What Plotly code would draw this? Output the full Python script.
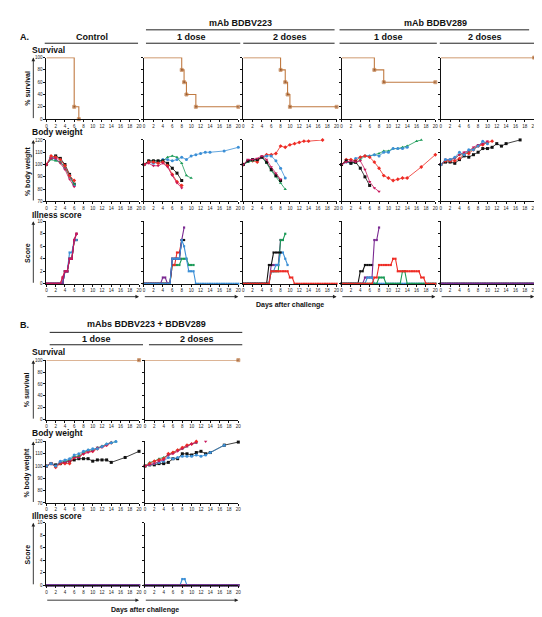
import plotly.graph_objects as go

W, H = 542, 617
FONT = "Liberation Sans, Arial, Helvetica, sans-serif"

# ---------------- data ----------------
day_ticks = [0, 2, 4, 6, 8, 10, 12, 14, 16, 18, 20]
surv_ticks = [0, 20, 40, 60, 80, 100]
bw_ticks = [70, 80, 90, 100, 110, 120]
score_ticks = [0, 2, 4, 6, 8, 10]

# survival (step curves)
surv_ctrl = ([0, 6, 7], [100, 20, 0])
surv_223_1 = ([0, 8, 8.5, 9, 11, 20], [100, 80, 60, 40, 20, 20])
surv_223_2 = ([0, 8, 9, 9.5, 10, 20], [100, 80, 60, 40, 20, 20])
surv_289_1 = ([0, 7, 9, 20], [100, 80, 60, 60])
surv_289_2 = ([0, 20], [100, 100])
surv_combo_1 = ([0, 20], [100, 100])
surv_combo_2 = ([0, 20], [100, 100])

# body weight (% of day 0): color -> (days, values)
d0_6 = [0, 1, 2, 3, 4, 5, 6]
bw_ctrl = {
    "black": (d0_6, [100, 105, 107, 105, 100, 92, 84]),
    "blue": (d0_6, [100, 106, 104, 102, 97, 91, 83]),
    "green": (d0_6, [100, 104, 103, 102, 98, 90, 84]),
    "red": (d0_6, [100, 107, 106, 104, 99, 91, 87]),
    "crimson": (d0_6, [100, 105, 105, 101, 96, 88, 82]),
}
bw_223_1 = {
    "blue": ([0, 1, 2, 3, 4, 5, 6, 7, 8, 9, 10, 11, 12, 13, 14, 17, 20],
             [100, 102, 101, 102, 104, 104, 103, 104, 106, 104, 107, 108, 109, 110, 110, 111, 114]),
    "green": ([0, 1, 2, 3, 4, 5, 6, 7, 8, 9, 10],
              [100, 103, 103, 103, 103, 106, 107, 106, 101, 91, 89]),
    "black": ([0, 1, 2, 3, 4, 5, 6, 7, 8], [100, 103, 103, 103, 103, 101, 97, 93, 87]),
    "red": ([0, 1, 2, 3, 4, 5, 6, 7, 8], [100, 102, 102, 101, 102, 99, 92, 86, 83]),
    "crimson": ([0, 1, 2, 3, 4, 5, 6, 7, 8], [100, 101, 99, 99, 101, 98, 91, 85, 81]),
}
bw_223_2 = {
    "red": ([0, 1, 2, 3, 4, 5, 6, 7, 8, 9, 10, 11, 12, 13, 14, 17],
            [100, 103, 103, 102, 106, 108, 108, 109, 115, 114, 116, 117, 118, 119, 119, 120]),
    "blue": ([0, 1, 2, 3, 4, 5, 6, 7, 8, 9], [100, 103, 104, 104, 106, 107, 107, 103, 97, 89]),
    "green": ([0, 1, 2, 3, 4, 5, 6, 7, 8, 9], [100, 102, 103, 104, 106, 101, 95, 90, 85, 80]),
    "black": ([0, 1, 2, 3, 4, 5, 6, 7, 8], [100, 103, 104, 104, 106, 102, 96, 91, 87]),
    "crimson": ([0, 1, 2, 3, 4, 5, 6, 7, 8], [100, 104, 104, 105, 107, 104, 98, 93, 88]),
}
bw_289_1 = {
    "green": ([0, 1, 2, 3, 4, 5, 6, 7, 8, 9, 10, 11, 12, 13, 14, 16, 17],
              [100, 102, 102, 101, 104, 107, 107, 108, 109, 111, 111, 113, 113, 114, 115, 119, 120]),
    "blue": ([0, 1, 2, 3, 4, 5, 6, 7, 8, 9, 10, 11, 12, 13, 14],
             [100, 102, 101, 105, 106, 107, 107, 108, 107, 110, 110, 113, 113, 113, 114]),
    "red": ([0, 1, 2, 3, 4, 5, 6, 7, 8, 9, 10, 11, 12, 13, 14, 17, 20],
            [100, 104, 104, 103, 106, 107, 106, 102, 97, 91, 89, 87, 88, 89, 89, 98, 108]),
    "black": ([0, 1, 2, 3, 4, 5, 6], [100, 103, 101, 102, 97, 90, 83]),
    "crimson": ([0, 1, 2, 3, 4, 5, 6, 7, 8], [100, 102, 103, 102, 103, 96, 86, 81, 78]),
}
bw_289_2 = {
    "black": ([0, 1, 2, 3, 4, 5, 6, 7, 8, 9, 10, 11, 12, 13, 14, 17],
              [100, 102, 102, 101, 104, 107, 106, 108, 110, 113, 113, 114, 117, 115, 117, 120]),
    "green": ([0, 1, 2, 3, 4, 5, 6, 7, 8, 9, 10], [100, 103, 104, 105, 108, 109, 110, 113, 115, 117, 118]),
    "red": ([0, 1, 2, 3, 4, 5, 6, 7, 8, 9, 10, 11], [100, 103, 103, 103, 105, 109, 109, 112, 115, 116, 118, 119]),
    "crimson": ([0, 1, 2, 3, 4, 5, 6, 7, 8, 9, 10], [100, 104, 104, 105, 108, 110, 111, 114, 116, 117, 119]),
    "blue": ([0, 1, 2, 3, 4, 5, 6, 7, 8, 9, 10], [100, 104, 104, 106, 110, 108, 112, 112, 115, 119, 117]),
}
bw_combo_1 = {
    "black": ([0, 1, 2, 3, 4, 5, 6, 7, 8, 9, 10, 11, 12, 13, 14, 17, 20],
              [100, 102, 101, 102, 103, 104, 105, 106, 106, 106, 104, 105, 105, 105, 103, 107, 112]),
    "red": ([0, 1, 2, 3, 4, 5, 6, 7, 8, 9, 10, 11, 12, 13, 14],
            [100, 102, 99, 102, 102, 102, 107, 108, 110, 112, 112, 114, 116, 117, 119]),
    "green": ([0, 1, 2, 3, 4, 5, 6, 7, 8, 9, 10, 11, 12, 13, 14, 15],
              [100, 102, 100, 103, 104, 105, 108, 108, 111, 113, 113, 115, 116, 118, 119, 120]),
    "crimson": ([0, 1, 2, 3, 4, 5, 6, 7, 8, 9, 10, 11, 12, 13, 14],
                [100, 102, 100, 103, 103, 104, 107, 107, 110, 111, 112, 115, 115, 117, 119]),
    "blue": ([0, 1, 2, 3, 4, 5, 6, 7, 8, 9, 10, 11, 12, 13, 14, 15],
             [100, 102, 100, 104, 105, 106, 109, 110, 112, 113, 114, 114, 116, 118, 119, 120]),
}
bw_combo_2 = {
    "black": ([0, 1, 2, 3, 4, 5, 6, 7, 8, 9, 10, 11, 12, 13, 14, 17, 20],
              [100, 101, 101, 102, 102, 103, 106, 106, 110, 110, 109, 111, 112, 110, 111, 117, 119.5]),
    "blue": ([0, 1, 2, 3, 4, 5, 6, 7, 8, 9, 10, 11, 12, 13, 14, 17],
             [100, 101, 102, 103, 104, 107, 106, 107, 108, 108, 108, 109, 108, 109, 111, 117]),
    "green": ([0, 1, 2, 3, 4, 5, 6, 7, 8, 9, 10, 11], [100, 103, 104, 106, 107, 109, 111, 113, 114, 116, 118, 119]),
    "red": ([0, 1, 2, 3, 4, 5, 6, 7, 8, 9, 10, 11], [100, 102, 104, 105, 106, 110, 111, 113, 115, 117, 118, 120]),
    "crimson": ([0, 1, 2, 3, 4, 5, 6, 7, 8, 9, 10, 11, 12, 13],
                [100, 101, 102, 104, 105, 109, 110, 112, 114, 116, 118, 119, None, 120]),
}

# illness score, one value per half day starting at day 0
ill_ctrl = {
    "black": [0, 0, 0, 0, 0, 0, 0, 0, 2, 2, 4, 4, 7, 7],
    "green": [0, 0, 0, 0, 0, 0, 0, 0, 2, 2, 4, 4, 7],
    "red": [0, 0, 0, 0, 0, 0, 0, 1, 2, 2, 4, 4, 7, 8],
    "blue": [0, 0, 0, 0, 0, 0, 0, 0, 2, 2, 5, 5, 7, 7],
    "purple": [0, 0, 0, 0, 0, 0, 0, 0, 2, 2, 4, 4, 7, 8],
    "crimson": [0, 0, 0, 0, 0, 0, 0, 1, 2, 2, 4, 4, 7, 8],
}
ill_223_1 = {
    "green": [0] * 12 + [3, 3, 3, 3, 4, 4, 4, 3, 3, 3],
    "red": [0] * 12 + [3, 3, 5, 5, 7],
    "black": [0] * 12 + [4, 4, 4, 4, 7, 7],
    "purple": [0] * 8 + [1, 1, 0, 0, 4, 4, 4, 4, 7, 9],
    "blue": [0] * 12 + [4, 4, 4, 4, 7, 6, 4, 2, 2, 2] + [0] * 19,
}
ill_223_2 = {
    "purple": [0] * 12 + [3, 3, 3, 3, 7],
    "green": [0] * 12 + [2, 2, 2, 2, 7, 7, 8],
    "blue": [0] * 12 + [2, 2, 3, 3, 5, 5, 4, 3],
    "black": [0] * 11 + [3, 3, 5, 5, 5, 5],
    "red": [0] * 12 + [2] * 8 + [1, 1] + [0] * 19,
}
ill_289_1 = {
    "black": [0] * 8 + [2, 2, 3, 3, 3, 3],
    "purple": [0] * 10 + [1, 1, 1, 1, 7, 7, 9],
    "blue": [0] * 11 + [1, 1, 1] + [0] * 27,
    "green": [0] * 16 + [1, 1, 1] + [0] * 7 + [2, 2] + [0] * 13,
    "red": [0] * 14 + [1, 1] + [3] * 6 + [4, 4] + [2] * 10 + [1, 1] + [0] * 5,
}
ill_289_2 = {
    "black": [0] * 41, "green": [0] * 41, "red": [0] * 41, "blue": [0] * 41, "purple": [0] * 41,
}
ill_combo_1 = {
    "black": [0] * 41, "green": [0] * 41, "red": [0] * 41, "blue": [0] * 41, "purple": [0] * 41,
}
ill_combo_2 = {
    "black": [0] * 41, "green": [0] * 41, "red": [0] * 41, "blue": [0] * 16 + [1, 1] + [0] * 23,
    "purple": [0] * 41,
}

# ---------------- styles ----------------
C_SURV = "#c07a42"
C_SURV_MK = "#8f4a1d"
COLORS = {"black": "#111111", "blue": "#3b8fd6", "green": "#1b9a57", "red": "#ee2b24",
          "crimson": "#c8175c", "purple": "#7b2a92"}
SYMBOLS = {"black": "square", "blue": "circle", "green": "triangle-up", "red": "diamond",
           "crimson": "triangle-down", "purple": "square"}

fig = go.Figure()
layout_axes = {}
counter = [0]


def px_x(x):
    return x / W


def px_y(y):
    return 1 - y / H


def new_axes(xpx, ypx, yrange, yticks, show_ylabels):
    counter[0] += 1
    n = counter[0]
    s = "" if n == 1 else str(n)
    common = dict(showline=True, linecolor="#111", linewidth=1, ticks="outside", ticklen=2,
                  tickwidth=0.8, tickcolor="#111", showgrid=False, zeroline=False,
                  tickfont=dict(size=4.5, family=FONT, color="#222"), fixedrange=True)
    layout_axes["xaxis" + s] = dict(domain=[px_x(xpx[0]), px_x(xpx[1])], range=[0, 20],
                                    anchor="y" + s, tickvals=day_ticks, **common)
    layout_axes["yaxis" + s] = dict(domain=[px_y(ypx[1]), px_y(ypx[0])], range=yrange,
                                    anchor="x" + s, tickvals=yticks,
                                    showticklabels=show_ylabels, **common)
    return "x" + s, "y" + s


def add_surv(data, xa, ya):
    days, pct = data
    sizes = [0] + [3] * (len(days) - 1)
    fig.add_trace(go.Scatter(x=days, y=pct, xaxis=xa, yaxis=ya, mode="lines+markers",
                             line=dict(color=C_SURV, width=1.1, shape="hv"),
                             marker=dict(symbol="square", size=sizes, color=C_SURV_MK),
                             cliponaxis=False, showlegend=False, hoverinfo="skip"))


def add_bw(data, xa, ya):
    for c, (days, vals) in data.items():
        fig.add_trace(go.Scatter(x=days, y=vals, xaxis=xa, yaxis=ya, mode="lines+markers",
                                 line=dict(color=COLORS[c], width=0.8),
                                 marker=dict(symbol=SYMBOLS[c], size=3, color=COLORS[c]),
                                 connectgaps=False, cliponaxis=False, showlegend=False,
                                 hoverinfo="skip"))


def add_ill(data, xa, ya):
    for c, vals in data.items():
        days = [i * 0.5 for i in range(len(vals))]
        fig.add_trace(go.Scatter(x=days, y=vals, xaxis=xa, yaxis=ya, mode="lines+markers",
                                 line=dict(color=COLORS[c], width=1.1),
                                 marker=dict(symbol="square", size=2.2, color=COLORS[c]),
                                 cliponaxis=False, showlegend=False, hoverinfo="skip"))


# ---------------- panel geometry (pixels) ----------------
colsA = [(37.7, 131), (136, 231), (236, 330), (335, 429.5), (435, 529)]
rowsA = {"surv": (48, 110), "bw": (131, 193), "score": (213, 276)}
colsB = [(37.7, 131), (137, 231)]
rowsB = {"surv": (353, 413), "bw": (435, 497), "score": (517, 580)}

survA = [surv_ctrl, surv_223_1, surv_223_2, surv_289_1, surv_289_2]
bwA = [bw_ctrl, bw_223_1, bw_223_2, bw_289_1, bw_289_2]
illA = [ill_ctrl, ill_223_1, ill_223_2, ill_289_1, ill_289_2]
survB = [surv_combo_1, surv_combo_2]
bwB = [bw_combo_1, bw_combo_2]
illB = [ill_combo_1, ill_combo_2]

for cols, rows, sv, bw, il in [(colsA, rowsA, survA, bwA, illA), (colsB, rowsB, survB, bwB, illB)]:
    for i, cx in enumerate(cols):
        first = i == 0
        xa, ya = new_axes(cx, rows["surv"], [0, 100], surv_ticks, first)
        add_surv(sv[i], xa, ya)
        xa, ya = new_axes(cx, rows["bw"], [70, 120], bw_ticks, first)
        add_bw(bw[i], xa, ya)
        xa, ya = new_axes(cx, rows["score"], [0, 10], score_ticks, first)
        add_ill(il[i], xa, ya)

# ---------------- annotations / shapes ----------------
ann = []
shapes = []


def text(x, y, s, size, bold=True, xanchor="center", angle=0):
    ann.append(dict(x=px_x(x), y=px_y(y), xref="paper", yref="paper", text=("<b>%s</b>" % s) if bold else s,
                    showarrow=False, xanchor=xanchor, yanchor="middle", textangle=angle, borderpad=0,
                    font=dict(size=size, family=FONT, color="#111")))


def hline(x0, x1, y):
    shapes.append(dict(type="line", xref="paper", yref="paper", x0=px_x(x0), x1=px_x(x1),
                       y0=px_y(y), y1=px_y(y), line=dict(color="#222", width=1)))


def arrow(xt, yt, dx, dy):
    # tip at (xt, yt) pixels, tail offset (dx, dy) pixels
    ann.append(dict(x=px_x(xt), y=px_y(yt), xref="paper", yref="paper", text="", showarrow=True,
                    ax=dx, ay=dy, arrowhead=2, arrowsize=0.8, arrowwidth=0.9, arrowcolor="#222"))


# Panel A headers
text(10, 27, "A.", 9, xanchor="left")
text(84, 27, "Control", 9)
hline(36, 130, 33.5)
text(233, 13, "mAb BDBV223", 9)
hline(138, 328, 20)
text(184, 27, "1 dose", 9)
hline(138, 233, 33.5)
text(283, 27, "2 doses", 9)
hline(236, 328, 33.5)
text(430, 13, "mAb BDBV289", 9)
hline(333, 524, 20)
text(382, 27, "1 dose", 9)
hline(333, 431, 33.5)
text(480, 27, "2 doses", 9)
hline(434, 529, 33.5)

# row labels A
text(22, 40.5, "Survival", 8.5, xanchor="left")
text(22, 122.5, "Body weight", 8.5, xanchor="left")
text(22, 207.3, "Illness score", 8.2, xanchor="left")
# row labels B
text(22, 344.5, "Survival", 8.5, xanchor="left")
text(22, 426.5, "Body weight", 8.5, xanchor="left")
text(22, 511, "Illness score", 8.2, xanchor="left")

for rows in (rowsA, rowsB):
    for key, lab in [("surv", "% survival"), ("bw", "% body weight"), ("score", "Score")]:
        y0, y1 = rows[key]
        text(18.5, (y0 + y1) / 2, lab, 7, angle=-90)
        arrow(24.5, y0, 0, y1 - y0)

for (x0, x1) in colsA:
    arrow(x1, 289, -(x1 - x0), 0)
text(283, 297.5, "Days after challenge", 7)

# Panel B headers
text(10, 318, "B.", 9, xanchor="left")
text(139, 317, "mAbs BDBV223 + BDBV289", 9)
hline(41, 235, 325)
text(88, 332, "1 dose", 9)
hline(41, 135, 337.5)
text(189, 332, "2 doses", 9)
hline(141, 235, 337.5)
for (x0, x1) in colsB:
    arrow(x1, 595, -(x1 - x0), 0)
text(137, 604.5, "Days after challenge", 7)

fig.update_layout(width=W, height=H, margin=dict(l=0, r=0, t=0, b=0),
                  paper_bgcolor="white", plot_bgcolor="white",
                  font=dict(family=FONT, color="#111"),
                  annotations=ann, shapes=shapes, showlegend=False, **layout_axes)

fig.write_html("out.html")
